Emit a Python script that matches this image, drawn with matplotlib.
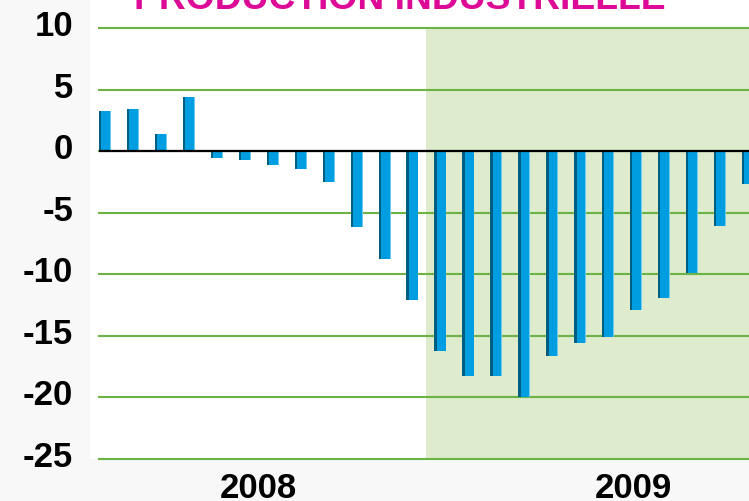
import numpy as np
import matplotlib
matplotlib.use("Agg")
import matplotlib.pyplot as plt
import matplotlib.transforms as mtransforms
from matplotlib.patches import Rectangle

# Données : production industrielle, glissement annuel (%)
months = np.arange(24)
values = [3.3, 3.4, 1.4, 4.4, -0.55, -0.75, -1.15, -1.45, -2.5, -6.2, -8.75, -12.1,
          -16.2, -18.3, -18.3, -20.0, -16.6, -15.6, -15.1, -12.9, -11.9, -9.9, -6.1, -2.7]
years = ["2008", "2009"]
year_pos = [5.5, 18.9]
yticks = [10, 5, 0, -5, -10, -15, -20, -25]
title = "PRODUCTION INDUSTRIELLE"

BLUE = "#009ee0"
DARK = "#005f80"
LIGHT = "#6ccbf0"
GRID = "#6ab344"
SHADE = "#deebcd"
MAGENTA = "#dc0a96"
W = 0.43

plt.rcParams['font.family'] = ['Liberation Sans', 'DejaVu Sans']

fig = plt.figure(figsize=(7.49, 5.02), dpi=100)
fig.patch.set_facecolor("#f8f8f8")
fig.patches.append(Rectangle((90 / 749, 42 / 502), 1, 1, transform=fig.transFigure,
                             facecolor="white", edgecolor="none", zorder=-10))

ax = fig.add_axes([99 / 749, 42 / 502, 1 - 99 / 749, 431 / 502])
ax.set_facecolor("white")

# zone 2009
ax.axvspan(11.5, 30, color=SHADE, zorder=0, lw=0)

for y in yticks:
    ax.axhline(y, color=GRID, lw=1.5, zorder=1, clip_on=False)

ax.bar(months, values, width=W, color=BLUE, zorder=3)
ax.bar(months - W / 2, values, width=0.085, align="edge", color=DARK, zorder=4)
ax.bar(months + W / 2 - 0.03, values, width=0.03, align="edge", color=LIGHT, zorder=4)
ax.axhline(0, color="black", lw=1.6, zorder=5)

ax.set_xlim(-W / 2, 23.04)
ax.set_ylim(-25, 10)
ax.set_yticks(yticks)
ax.set_yticklabels([str(t) for t in yticks], fontsize=25, fontweight="bold")
ax.set_xticks(year_pos)
ax.set_xticklabels(years, fontsize=25, fontweight="bold")
ax.tick_params(axis="y", length=0, pad=18.5)
ax.tick_params(axis="x", length=0, pad=9)
for s in ax.spines.values():
    s.set_visible(False)

off = mtransforms.ScaledTranslation(0, 6 / 100, fig.dpi_scale_trans)
for lab in ax.get_yticklabels():
    lab.set_transform(lab.get_transform() + off)

fig.text(399.5 / 749, 1 - 9 / 502, title, color=MAGENTA, fontsize=26.8,
         fontweight="bold", ha="center", va="baseline")

fig.savefig("out.png", dpi=100, facecolor=fig.get_facecolor())
